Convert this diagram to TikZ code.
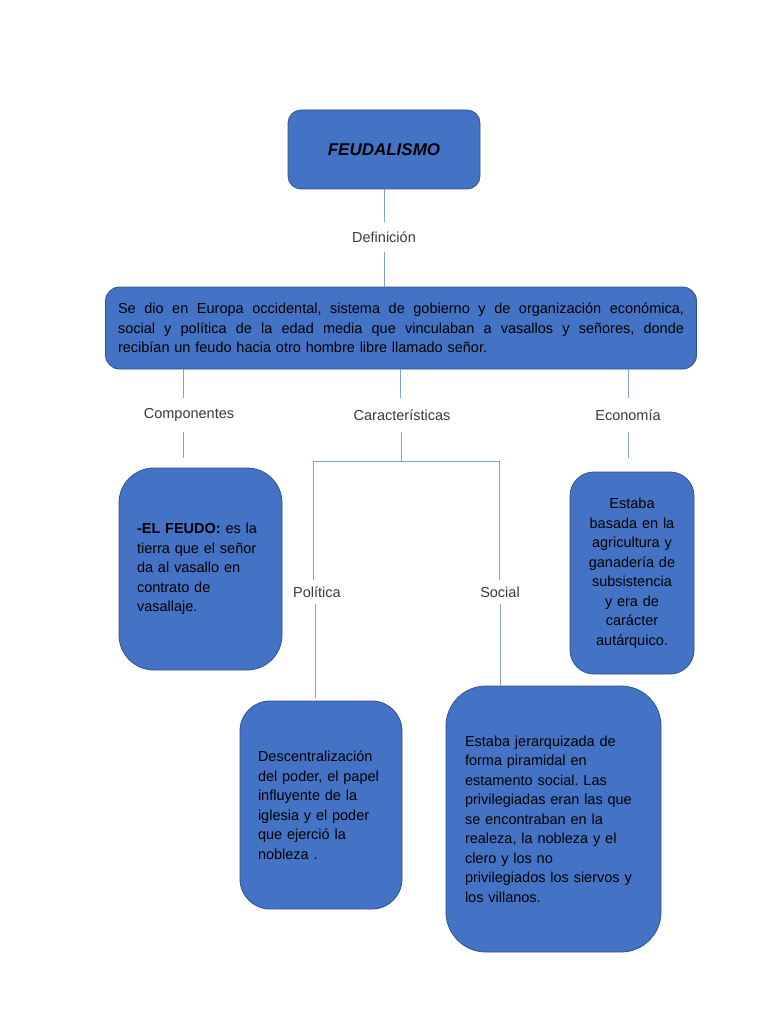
\documentclass[tikz,border=0pt]{standalone}
\usepackage{fontspec}
\setmainfont{Liberation Sans}
\frenchspacing
\definecolor{boxfill}{HTML}{4472C4}
\definecolor{boxline}{HTML}{2F528F}
\definecolor{conncol}{HTML}{7F9FD6}
\definecolor{labcol}{HTML}{3A3A3A}
\newcommand{\jline}[1]{\leavevmode\hbox to 566pt{\spaceskip=0.28em plus 1fil\relax #1}}
\tikzset{
  blue box/.style={draw=boxline, line width=0.8pt, fill=boxfill, text=black, inner sep=0pt,
    font=\fontsize{14.5}{19.5}\selectfont},
  lab/.style={text=labcol, font=\fontsize{14.5}{17}\selectfont, inner sep=0pt},
  conn/.style={draw=conncol, line width=0.8pt},
}
\begin{document}
\begin{tikzpicture}[x=1pt,y=-1pt]
\useasboundingbox[fill=white] (0,0) rectangle (768,1024);

% boxes
\node[blue box, rounded corners=13pt, minimum width=192pt, minimum height=79pt,
  font=\fontsize{17}{20}\selectfont\bfseries\itshape] (feud) at (384,149.5) {FEUDALISMO};

\node[blue box, rounded corners=14pt, minimum width=591pt, minimum height=82pt,
  text width=566pt, align=left] (defbox) at (401,328)
  {\jline{Se dio en Europa occidental, sistema de gobierno y de organización económica,}\\
   \jline{social y política de la edad media que vinculaban a vasallos y señores, donde}\\
   recibían un feudo hacia otro hombre libre llamado señor.};

\node[blue box, rounded corners=35pt, minimum width=163pt, minimum height=202pt,
  text width=127pt, align=left] (comp) at (200.5,569)
  {\textbf{-EL FEUDO:} es la\\ tierra que el señor\\ da al vasallo en\\ contrato de\\ vasallaje.};

\node[blue box, rounded corners=24pt, minimum width=124pt, minimum height=202pt,
  text width=112pt, align=center] (econ) at (632,573)
  {Estaba\\ basada en la\\ agricultura y\\ ganadería de\\ subsistencia\\ y era de\\ carácter\\ autárquico.};

\node[blue box, rounded corners=30pt, minimum width=162pt, minimum height=208pt,
  text width=126pt, align=left] (pol) at (321,805)
  {Descentralización\\ del poder, el papel\\ influyente de la\\ iglesia y el poder\\ que ejerció la\\ nobleza .};

\node[blue box, rounded corners=40pt, minimum width=215pt, minimum height=266pt,
  text width=177pt, align=left] (soc) at (553.5,819)
  {Estaba jerarquizada de\\ forma piramidal en\\ estamento social. Las\\ privilegiadas eran las que\\ se encontraban en la\\ realeza, la nobleza y el\\ clero y los no\\ privilegiados los siervos y\\ los villanos.};

% labels
\node[lab, minimum height=30pt] (ldef) at (384,237) {Definición};
\node[lab, minimum height=33pt] (lcomp) at (189,415) {Componentes};
\node[lab, minimum height=34pt] (lcar) at (402,415) {Características};
\node[lab, minimum height=33pt] (lecon) at (628,415) {Economía};
\node[lab, minimum height=24pt] (lpol) at (317,592) {Política};
\node[lab, minimum height=24pt] (lsoc) at (500,592) {Social};

% helper coordinates
\coordinate (xc) at (183,0);
\coordinate (xk) at (400.5,0);
\coordinate (xe) at (628,0);
\coordinate (barL) at (313,461);
\coordinate (barR) at (499,461);
\coordinate (barM) at (401,461);
\coordinate (xp) at (315,0);
\coordinate (xs) at (500,0);
\coordinate (endc) at (183,458);
\coordinate (ende) at (628,458);
\coordinate (endp) at (315,698);

% connectors
\draw[conn] (feud.south) -- (ldef.north);
\draw[conn] (ldef.south) -- (defbox.north -| ldef.south);
\draw[conn] (defbox.south -| xc) -- (lcomp.north -| xc);
\draw[conn] (lcomp.south -| xc) -- (endc);
\draw[conn] (defbox.south -| xk) -- (lcar.north -| xk);
\draw[conn] (lcar.south -| barM) -- (barM);
\draw[conn] (barL) -- (barR);
\draw[conn] (barL) -- (lpol.north -| barL);
\draw[conn] (barR) -- (lsoc.north -| barR);
\draw[conn] (defbox.south -| xe) -- (lecon.north -| xe);
\draw[conn] (lecon.south -| xe) -- (ende);
\draw[conn] (lpol.south -| xp) -- (endp);
\draw[conn] (lsoc.south -| xs) -- (soc.north -| xs);
\end{tikzpicture}
\end{document}
